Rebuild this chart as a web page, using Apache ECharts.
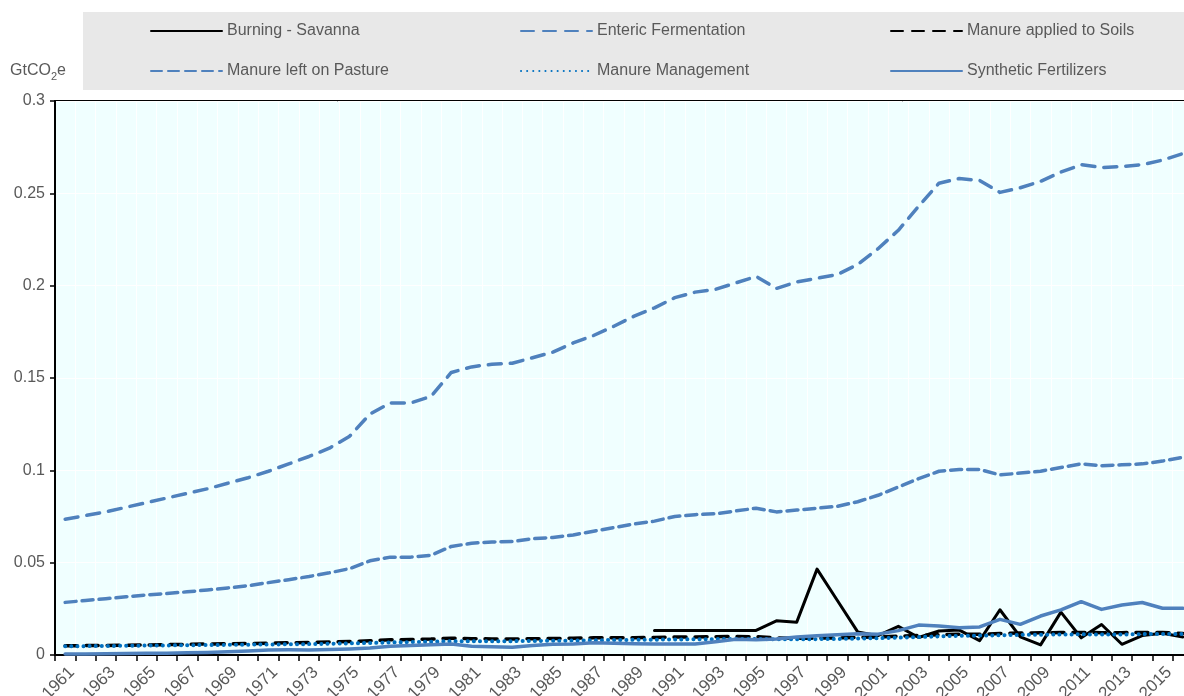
<!DOCTYPE html>
<html>
<head>
<meta charset="utf-8">
<script src="https://cdn.jsdelivr.net/npm/echarts@6/dist/echarts.min.js"></script>
<style>
html,body{margin:0;padding:0;background:#fff;}
#chart{width:1184px;height:696px;}
</style>
</head>
<body>
<div id="chart"></div>
<script>
var years = ['1961','1962','1963','1964','1965','1966','1967','1968','1969','1970',
'1971','1972','1973','1974','1975','1976','1977','1978','1979','1980',
'1981','1982','1983','1984','1985','1986','1987','1988','1989','1990',
'1991','1992','1993','1994','1995','1996','1997','1998','1999','2000',
'2001','2002','2003','2004','2005','2006','2007','2008','2009','2010',
'2011','2012','2013','2014','2015','2016'];

var burningSavanna = [null,null,null,null,null,null,null,null,null,null,
null,null,null,null,null,null,null,null,null,null,
null,null,null,null,null,null,null,null,null,0.0133,
0.0133,0.0133,0.0133,0.0133,0.0133,0.0185,0.0178,0.0465,0.0295,0.0125,
0.0105,0.0155,0.0095,0.0130,0.0135,0.0078,0.0245,0.0098,0.0055,0.0232,
0.0093,0.0165,0.0058,0.0105,0.0118,0.0098];

var entericFermentation = [0.0735,0.0755,0.0775,0.0800,0.0825,0.0850,0.0875,0.0900,0.0930,0.0960,
0.0995,0.1035,0.1075,0.1120,0.1185,0.1305,0.1365,0.1365,0.1400,0.1530,
0.1560,0.1575,0.1580,0.1610,0.1640,0.1690,0.1730,0.1780,0.1835,0.1880,
0.1935,0.1965,0.1980,0.2015,0.2050,0.1985,0.2020,0.2040,0.2060,0.2115,
0.2200,0.2300,0.2430,0.2555,0.2580,0.2570,0.2505,0.2530,0.2565,0.2615,
0.2655,0.2640,0.2645,0.2655,0.2680,0.2715];

var manureAppliedSoils = [0.0050,0.0051,0.0052,0.0053,0.0054,0.0056,0.0058,0.0060,0.0061,0.0062,
0.0064,0.0066,0.0068,0.0070,0.0073,0.0077,0.0082,0.0084,0.0086,0.0091,
0.0088,0.0087,0.0087,0.0088,0.0089,0.0091,0.0093,0.0094,0.0094,0.0095,
0.0097,0.0098,0.0099,0.0100,0.0099,0.0092,0.0090,0.0091,0.0093,0.0095,
0.0098,0.0102,0.0106,0.0110,0.0112,0.0112,0.0116,0.0119,0.0120,0.0122,
0.0122,0.0121,0.0121,0.0122,0.0122,0.0117];

var manureLeftPasture = [0.0285,0.0295,0.0305,0.0315,0.0325,0.0333,0.0342,0.0352,0.0363,0.0375,
0.0392,0.0408,0.0425,0.0445,0.0468,0.0510,0.0530,0.0530,0.0540,0.0588,
0.0605,0.0612,0.0615,0.0630,0.0636,0.0650,0.0670,0.0690,0.0710,0.0725,
0.0750,0.0760,0.0765,0.0780,0.0795,0.0775,0.0785,0.0795,0.0805,0.0830,
0.0865,0.0910,0.0955,0.0995,0.1005,0.1005,0.0975,0.0985,0.0995,0.1015,
0.1035,0.1025,0.1030,0.1035,0.1050,0.1070];

var manureManagement = [0.0047,0.0048,0.0049,0.0050,0.0051,0.0052,0.0053,0.0054,0.0055,0.0056,
0.0057,0.0058,0.0059,0.0061,0.0063,0.0065,0.0068,0.0070,0.0072,0.0075,
0.0074,0.0074,0.0075,0.0076,0.0077,0.0078,0.0080,0.0081,0.0082,0.0083,
0.0084,0.0085,0.0086,0.0087,0.0087,0.0085,0.0085,0.0086,0.0087,0.0089,
0.0091,0.0094,0.0097,0.0101,0.0104,0.0105,0.0107,0.0109,0.0110,0.0111,
0.0112,0.0111,0.0111,0.0113,0.0114,0.0114];

var syntheticFertilizers = [0.0005,0.0006,0.0007,0.0008,0.0009,0.0010,0.0012,0.0014,0.0017,0.0022,
0.0027,0.0028,0.0027,0.0030,0.0033,0.0038,0.0048,0.0052,0.0055,0.0060,
0.0048,0.0045,0.0042,0.0052,0.0058,0.0060,0.0066,0.0064,0.0061,0.0060,
0.0059,0.0059,0.0072,0.0085,0.0083,0.0087,0.0097,0.0104,0.0110,0.0115,
0.0113,0.0132,0.0162,0.0157,0.0148,0.0152,0.0193,0.0166,0.0211,0.0244,
0.0289,0.0247,0.0271,0.0284,0.0253,0.0253];

var yTicks = {min: 0, max: 0.3, interval: 0.05};

var BLUE = '#4F81BD';
var DOTBLUE = '#0070C0';
var TXT = '#595959';
var FONT = '"Liberation Sans", Arial, sans-serif';

function mk(name, data, color, type, width) {
  return {
    name: name, type: 'line', data: data, symbol: 'none', connectNulls: false,
    silent: true, animation: false,
    lineStyle: {color: color, width: width, type: type, cap: 'round', join: 'round'},
    itemStyle: {color: color}
  };
}

var legendCommon = {
  orient: 'vertical', top: 23, itemWidth: 71, itemHeight: 16, itemGap: 24, padding: 0,
  selectedMode: false,
  itemStyle: {opacity: 0},
  textStyle: {fontSize: 16, color: TXT, fontFamily: FONT, lineHeight: 16}
};

var chart = echarts.init(document.getElementById('chart'), null, {renderer: 'canvas'});
chart.setOption({
  animation: false,
  backgroundColor: '#ffffff',
  textStyle: {fontFamily: FONT},
  graphic: [
    {type: 'rect', left: 83, top: 12, shape: {width: 1101, height: 78}, style: {fill: '#E8E8E8'}, z: -10, silent: true},
    {type: 'text', left: 10, top: 63, silent: true, style: {
      text: '{a|GtCO}{b|2}{a|e}', rich: {
        a: {fontSize: 16, lineHeight: 22, fill: TXT, fontFamily: FONT, verticalAlign: 'middle'},
        b: {fontSize: 11, lineHeight: 12, fill: TXT, fontFamily: FONT, verticalAlign: 'bottom'}
      }}}
  ],
  legend: [
    Object.assign({}, legendCommon, {left: 150, data: ['Burning - Savanna', 'Manure left on Pasture']}),
    Object.assign({}, legendCommon, {left: 520, data: ['Enteric Fermentation', 'Manure Management']}),
    Object.assign({}, legendCommon, {left: 890, data: ['Manure applied to Soils', 'Synthetic Fertilizers']})
  ],
  grid: {left: 55, right: -9, top: 101, bottom: 41, show: true, backgroundColor: '#F0FFFF',
    borderColor: '#000', borderWidth: 2, containLabel: false, outerBoundsMode: 'none'},
  xAxis: {
    type: 'category', data: years, boundaryGap: true,
    axisLine: {lineStyle: {color: '#000', width: 2}},
    axisTick: {show: true, interval: 0, length: 6, lineStyle: {color: '#000', width: 1.5}},
    axisLabel: {interval: 1, rotate: 45, fontSize: 17, color: TXT, margin: 8, fontFamily: FONT,
      verticalAlign: 'top', padding: [1, 0, 0, 0]},
    splitLine: {show: true, interval: 0, lineStyle: {color: '#ffffff', width: 1}}
  },
  yAxis: {
    type: 'value', min: yTicks.min, max: yTicks.max, interval: yTicks.interval,
    axisLine: {show: true, lineStyle: {color: '#000', width: 2}},
    axisTick: {show: true, length: 5, lineStyle: {color: '#000', width: 1.5}},
    axisLabel: {fontSize: 16, color: TXT, margin: 10, fontFamily: FONT},
    splitLine: {show: true, lineStyle: {color: '#ffffff', width: 1}}
  },
  series: [
    mk('Burning - Savanna', burningSavanna, '#000000', 'solid', 3),
    mk('Enteric Fermentation', entericFermentation, BLUE, [13, 9], 3.5),
    mk('Manure applied to Soils', manureAppliedSoils, '#000000', [12, 9], 3.5),
    mk('Manure left on Pasture', manureLeftPasture, BLUE, [11, 6], 3.5),
    mk('Manure Management', manureManagement, DOTBLUE, [0.1, 6], 4),
    mk('Synthetic Fertilizers', syntheticFertilizers, BLUE, 'solid', 3.5)
  ]
});
</script>
</body>
</html>
